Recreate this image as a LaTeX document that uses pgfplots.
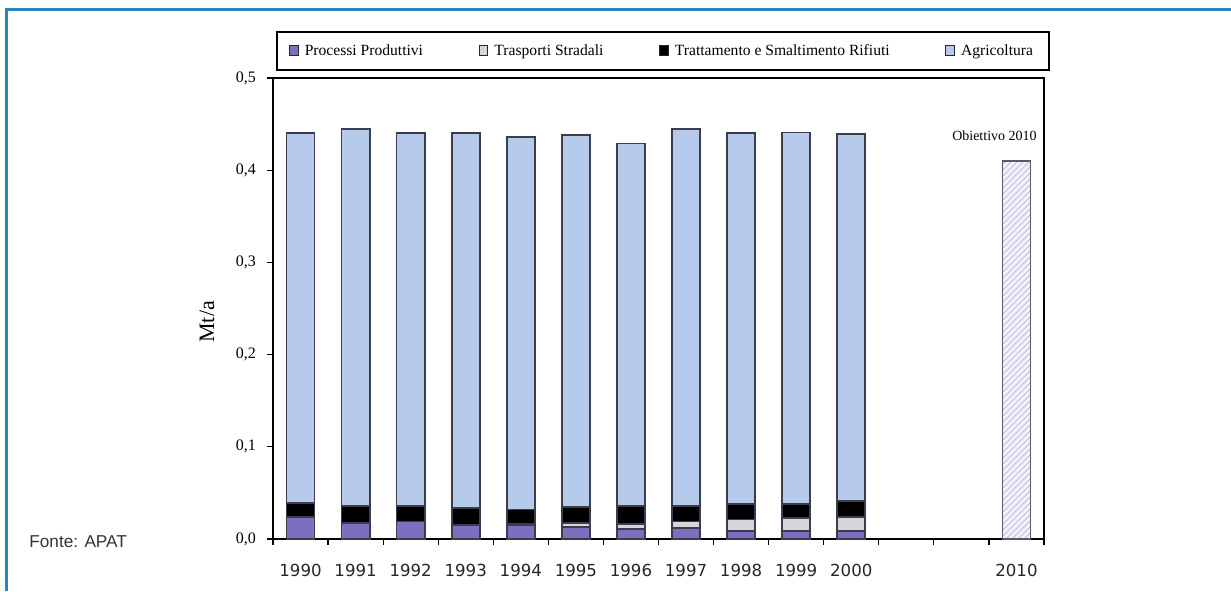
\documentclass[border=0pt]{standalone}
\usepackage{pgfplots}
\pgfplotsset{compat=1.18}
\usepackage{pgfplotstable}
\usepackage{fontspec}
\usetikzlibrary{patterns}
\setmainfont{Liberation Serif}
\newfontfamily\fontefont{Liberation Sans}
\newfontfamily\yearfont{DejaVu Sans}

\definecolor{frameblue}{RGB}{41,134,186}
\definecolor{procpurple}{RGB}{122,112,190}
\definecolor{trasgray}{RGB}{214,214,218}
\definecolor{agriblue}{RGB}{182,202,236}
\definecolor{baredge}{RGB}{60,60,78}
\definecolor{targetfill}{RGB}{242,242,250}
\definecolor{targethatch}{RGB}{190,190,222}

% Emissioni annue (Mt/a) per settore, 1990-2000
\pgfplotstableread{
idx proc  tras  tratt agri
0   0.024 0.000 0.015 0.401
1   0.017 0.000 0.019 0.409
2   0.019 0.000 0.017 0.404
3   0.015 0.000 0.019 0.406
4   0.015 0.001 0.016 0.404
5   0.013 0.004 0.018 0.403
6   0.011 0.005 0.020 0.393
7   0.012 0.007 0.017 0.409
8   0.009 0.012 0.017 0.402
9   0.009 0.014 0.015 0.403
10  0.009 0.015 0.017 0.398
}\emissioni

\pgfplotsset{
  chartgeom/.style={
    at={(136.5pt,26pt)}, anchor=south west,
    scale only axis, width=385.5pt, height=230.5pt,
    xmin=-0.5, xmax=13.5, ymin=0, ymax=0.5,
    bar width=0.51,
  },
  baredges/.style={draw=baredge, line width=0.85pt},
}

\begin{document}
\begin{tikzpicture}
\useasboundingbox (0,0) rectangle (615.5pt,295.5pt);
% cornice
\draw[frameblue, line width=1.5pt] (3.25pt,0pt) -- (3.25pt,290.75pt) -- (615.5pt,290.75pt);

\node[anchor=west, inner sep=0pt, text=black!80, font=\fontefont\fontsize{8.6}{10}\selectfont]
  at (14.5pt,24.5pt) {Fonte: APAT};

\begin{axis}[chartgeom,
  ybar stacked,
  axis line style={black, line width=0.6pt},
  tick style={black, line width=0.6pt},
  tick align=outside,
  xtick pos=lower, ytick pos=left,
  major tick length=3pt,
  xtick={-0.5,0.5,...,13.5},
  x tick label as interval,
  xticklabels={1990,1991,1992,1993,1994,1995,1996,1997,1998,1999,2000,{},{},2010},
  xticklabel style={font=\yearfont\fontsize{8.3}{10}\selectfont, text=black!85, yshift=-6pt},
  ytick={0,0.1,0.2,0.3,0.4,0.5},
  yticklabels={{0,0},{0,1},{0,2},{0,3},{0,4},{0,5}},
  yticklabel style={font=\fontsize{8}{9}\selectfont, xshift=-2pt},
  ylabel={Mt/a},
  ylabel style={at={(axis description cs:-0.0856,0.471)}, anchor=center, font=\fontsize{11}{12}\selectfont},
  legend columns=4,
  legend style={at={(0.004,1.1015)}, anchor=north west, draw=black, line width=0.9pt,
    font=\fontsize{7.8}{9}\selectfont, inner xsep=6pt, inner ysep=4pt,
    /tikz/every even column/.append style={column sep=25.8pt},
    /tikz/every odd column/.append style={column sep=1pt}},
  legend image code/.code={\draw[#1, line width=0.5pt, draw=black!85] (0pt,-2.2pt) rectangle (4.4pt,2.8pt);},
]
\addplot[fill=procpurple, baredges] table[x=idx, y=proc] {\emissioni};
\addlegendentry{Processi Produttivi}
\addplot[fill=trasgray, baredges] table[x=idx, y=tras] {\emissioni};
\addlegendentry{Trasporti Stradali}
\addplot[fill=black, baredges] table[x=idx, y=tratt] {\emissioni};
\addlegendentry{Trattamento e Smaltimento Rifiuti}
\addplot[fill=agriblue, baredges] table[x=idx, y=agri] {\emissioni};
\addlegendentry{Agricoltura}
\end{axis}

% obiettivo al 2010
\begin{axis}[chartgeom, ybar, hide axis]
\addplot[preaction={fill=targetfill}, pattern=north east lines, pattern color=targethatch,
  draw=baredge!85, line width=0.8pt]
  coordinates {(13,0.410)};
\node[font=\fontsize{7}{8}\selectfont] at (axis cs:12.6,0.437) {Obiettivo 2010};
\end{axis}
\end{tikzpicture}
\end{document}
